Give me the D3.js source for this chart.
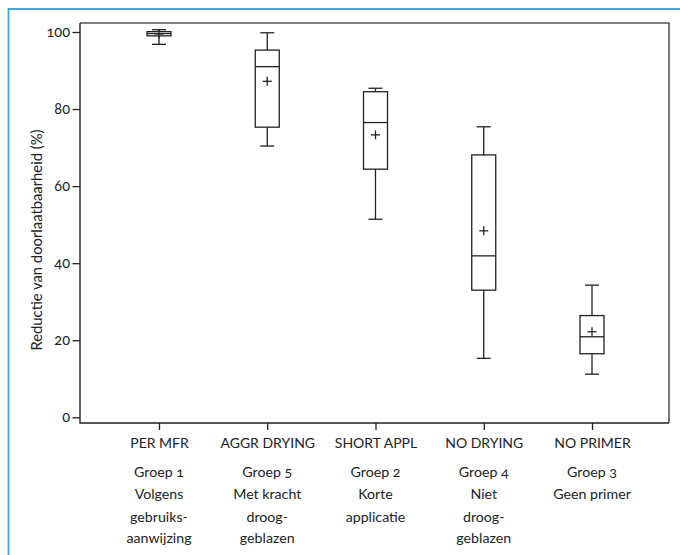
<!DOCTYPE html>
<html><head><meta charset="utf-8">
<script src="https://cdn.jsdelivr.net/npm/d3@7"></script>
<style>
html,body{margin:0;padding:0;background:#fff;}
svg{display:block;font-family:"Lato","Open Sans",sans-serif;font-variant-numeric:oldstyle-nums;}
</style></head>
<body><svg id="c" width="680" height="555"></svg>
<script>
const categories = ["PER MFR","AGGR DRYING","SHORT APPL","NO DRYING","NO PRIMER"];
const subLabels = [
  ["Groep 1","Volgens","gebruiks-","aanwijzing"],
  ["Groep 5","Met kracht","droog-","geblazen"],
  ["Groep 2","Korte","applicatie"],
  ["Groep 4","Niet","droog-","geblazen"],
  ["Groep 3","Geen primer"]
];
const whiskerLow  = [96.8, 70.4, 51.4, 15.3, 11.2];
const q1          = [99.0, 75.3, 64.4, 33.0, 16.5];
const medians     = [99.6, 91.0, 76.5, 41.9, 20.9];
const q3          = [100.1, 95.3, 84.5, 68.1, 26.4];
const whiskerHigh = [100.6, 99.8, 85.4, 75.4, 34.3];
const means       = [99.5, 87.2, 73.3, 48.4, 22.2];
const yTicks = [0, 20, 40, 60, 80, 100];
const yTitle = "Reductie van doorlaatbaarheid (%)";

const svg = d3.select("#c");
// outer blue frame (top & left)
svg.append("path").attr("d","M8.5,555 V9 H680").attr("fill","none")
  .attr("stroke","#3aa6e8").attr("stroke-width",1.8);

const L = 80, R = 669, T = 23, B = 423;
const y = d3.scaleLinear().domain([0,100]).range([417.3, 32]);
const x = d3.scalePoint().domain(categories).range([159, 592]);

// plot frame
svg.append("path").attr("d",`M${L},${T} H${R} V${B}`).attr("fill","none")
  .attr("stroke","#555").attr("stroke-width",1.6);
svg.append("path").attr("d",`M${L},${T} V${B} H${R}`).attr("fill","none")
  .attr("stroke","#222").attr("stroke-width",1.4);

// y axis
const ya = svg.append("g").attr("transform",`translate(${L},0)`)
  .call(d3.axisLeft(y).tickValues(yTicks).tickSize(7.5).tickPadding(2.5).tickFormat(d3.format("d")));
ya.select(".domain").remove();
ya.selectAll(".tick line").attr("stroke","#222").attr("stroke-width",1.3);
ya.selectAll(".tick text").attr("font-size",14.5).attr("fill","#222")
  .attr("font-family","Lato,'Open Sans',sans-serif");

// x axis
const xa = svg.append("g").attr("transform",`translate(0,${B})`)
  .call(d3.axisBottom(x).tickSize(7).tickPadding(8));
xa.select(".domain").remove();
xa.selectAll(".tick line").attr("stroke","#222").attr("stroke-width",1.3);
xa.selectAll(".tick text").attr("font-size",14).attr("fill","#222")
  .attr("font-family","Lato,'Open Sans',sans-serif");

// sub labels
const lineY = [476.5, 498.5, 521.5, 543];
categories.forEach((c,i)=>{
  const t = svg.append("text").attr("text-anchor","middle").attr("font-size",14.2).attr("fill","#222");
  subLabels[i].forEach((s,j)=>{
    t.append("tspan").attr("x",x(c)).attr("y",lineY[j]).text(s);
  });
});

// y title
svg.append("text").attr("transform","translate(42,240) rotate(-90)")
  .attr("text-anchor","middle").attr("font-size",14.8).attr("fill","#222").text(yTitle);

// boxes
const bw = 24, cw = 14, mw = 9;
const g = svg.append("g").attr("stroke","#222").attr("stroke-width",1.3).attr("fill","none");
categories.forEach((c,i)=>{
  const cx = x(c);
  g.append("line").attr("x1",cx).attr("x2",cx).attr("y1",y(whiskerHigh[i])).attr("y2",y(q3[i]));
  g.append("line").attr("x1",cx).attr("x2",cx).attr("y1",y(q1[i])).attr("y2",y(whiskerLow[i]));
  g.append("line").attr("x1",cx-cw/2).attr("x2",cx+cw/2).attr("y1",y(whiskerHigh[i])).attr("y2",y(whiskerHigh[i]));
  g.append("line").attr("x1",cx-cw/2).attr("x2",cx+cw/2).attr("y1",y(whiskerLow[i])).attr("y2",y(whiskerLow[i]));
  g.append("rect").attr("x",cx-bw/2).attr("width",bw).attr("y",y(q3[i])).attr("height",y(q1[i])-y(q3[i]));
  g.append("line").attr("x1",cx-bw/2).attr("x2",cx+bw/2).attr("y1",y(medians[i])).attr("y2",y(medians[i]));
  g.append("line").attr("x1",cx-mw/2).attr("x2",cx+mw/2).attr("y1",y(means[i])).attr("y2",y(means[i]));
  g.append("line").attr("x1",cx).attr("x2",cx).attr("y1",y(means[i])-mw/2).attr("y2",y(means[i])+mw/2);
});
</script></body></html>
